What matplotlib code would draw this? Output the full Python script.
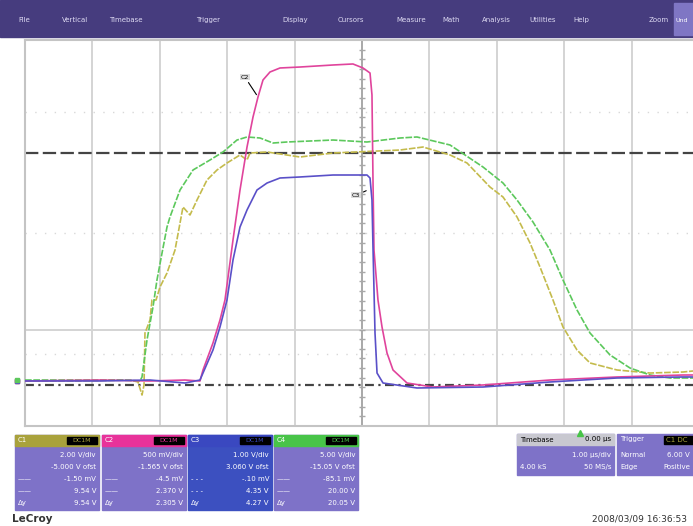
import matplotlib.pyplot as plt
from matplotlib.patches import Rectangle

# time in us (1 us/div, 10 div), level in screen divisions (0..8)
t_c1 = [0, 0.816, 1.558, 1.677, 1.736, 1.766, 1.780, 1.855, 1.884, 1.944, 2.003, 2.107, 2.226, 2.344,
        2.448, 2.552, 2.700, 2.849, 2.997, 3.190, 3.294, 3.338, 3.591, 4.080, 4.570, 5.564, 5.905,
        6.306, 6.558, 6.899, 7.092, 7.300, 7.493, 7.641, 7.834, 7.982, 8.190, 8.383, 8.783, 9.273,
        9.763, 9.911]
y_c1 = [0.933, 0.933, 0.953, 0.912, 0.642, 0.850, 1.927, 2.197, 2.611, 2.611, 2.881, 3.171, 3.648, 4.539,
        4.373, 4.684, 5.098, 5.306, 5.451, 5.617, 5.513, 5.658, 5.679, 5.575, 5.658, 5.720, 5.782,
        5.617, 5.451, 4.953, 4.746, 4.332, 3.793, 3.295, 2.611, 2.052, 1.575, 1.306, 1.161, 1.098,
        1.119, 1.140]

t_c2 = [0, 1.113, 1.855, 2.374, 2.596, 2.641, 2.789, 2.893, 2.967, 3.086, 3.190, 3.294, 3.383, 3.457,
        3.531, 3.635, 3.783, 4.080, 4.570, 4.866, 5.015, 5.119, 5.148, 5.163, 5.178, 5.237, 5.297,
        5.371, 5.460, 5.668, 6.053, 6.795, 7.789, 8.783, 9.763, 9.911]
y_c2 = [0.933, 0.953, 0.933, 0.953, 0.933, 1.161, 1.720, 2.197, 2.611, 3.855, 4.891, 5.782, 6.404, 6.819,
        7.171, 7.337, 7.420, 7.440, 7.482, 7.503, 7.420, 7.316, 6.860, 5.098, 3.648, 2.611, 2.052,
        1.513, 1.161, 0.891, 0.808, 0.850, 0.953, 1.016, 1.057, 1.057]

t_c3 = [0, 1.113, 1.855, 2.374, 2.596, 2.789, 2.893, 2.997, 3.086, 3.190, 3.294, 3.442, 3.591, 3.783,
        4.080, 4.570, 5.074, 5.119, 5.148, 5.163, 5.193, 5.223, 5.312, 5.816, 6.795, 7.789, 8.783,
        9.763, 9.911]
y_c3 = [0.933, 0.933, 0.953, 0.891, 0.953, 1.575, 2.052, 2.611, 3.440, 4.124, 4.477, 4.891, 5.036, 5.140,
        5.161, 5.202, 5.202, 5.140, 4.684, 3.710, 1.927, 1.098, 0.891, 0.788, 0.808, 0.912, 0.995,
        1.016, 1.016]

t_c4 = [0, 0.816, 1.409, 1.706, 1.736, 1.810, 1.899, 1.958, 2.033, 2.107, 2.151, 2.300, 2.493, 2.745,
        2.938, 3.145, 3.294, 3.487, 3.680, 3.887, 4.570, 5.074, 5.564, 5.816, 6.306, 6.795, 7.092,
        7.300, 7.537, 7.789, 7.982, 8.190, 8.383, 8.680, 8.976, 9.273, 9.570, 9.911]
y_c4 = [0.953, 0.953, 0.953, 0.933, 1.016, 1.782, 2.466, 3.026, 3.585, 4.124, 4.332, 4.891, 5.306, 5.513,
        5.679, 5.927, 5.990, 5.969, 5.865, 5.886, 5.927, 5.886, 5.969, 5.990, 5.824, 5.368, 5.036,
        4.684, 4.228, 3.648, 3.026, 2.404, 1.927, 1.472, 1.202, 1.057, 0.995, 0.995]

level_dashed = 5.66
level_dashdot = 0.85
trig_pos = 8.23

menu_items = ['File', 'Vertical', 'Timebase', 'Trigger', 'Display', 'Cursors', 'Measure',
              'Math', 'Analysis', 'Utilities', 'Help']
menu_x = [18, 62, 109, 196, 282, 338, 396, 442, 482, 529, 573]

ch_names = ['C1', 'C2', 'C3', 'C4']
ch_colors = ['#c4bb4c', '#e0449c', '#5a50c8', '#5cc85c']
head_colors = ['#a9a23c', '#e8329a', '#3a48c0', '#48c448']
body_colors = ['#7e72c8', '#7e72c8', '#3c50c0', '#7e72c8']
ch_rows = [['2.00 V/div', '-5.000 V ofst', '-1.50 mV', '9.54 V', '9.54 V'],
           ['500 mV/div', '-1.565 V ofst', '-4.5 mV', '2.370 V', '2.305 V'],
           ['1.00 V/div', '3.060 V ofst', '-.10 mV', '4.35 V', '4.27 V'],
           ['5.00 V/div', '-15.05 V ofst', '-85.1 mV', '20.00 V', '20.05 V']]
panel_x = [15, 102, 188, 274]

fig = plt.figure(figsize=(6.93, 5.26), dpi=100)

# overlay in pixel coordinates for the scope frame
bg = fig.add_axes([0, 0, 1, 1])
bg.set_xlim(0, 693)
bg.set_ylim(526, 0)
bg.axis('off')

bg.add_patch(Rectangle((0, 0), 693, 37, color='#463c7e'))
bg.add_patch(Rectangle((674, 3), 20, 32, color='#7f76c4'))
for w, x in zip(menu_items, menu_x):
    bg.text(x, 20, w, color='#ddd9f2', fontsize=5, va='center')
bg.text(649, 20, 'Zoom', color='#ddd9f2', fontsize=5, va='center')
bg.text(676, 20, 'Und', color='white', fontsize=4.5, va='center')

for i in range(4):
    x0 = panel_x[i]
    bg.add_patch(Rectangle((x0, 435), 84, 75, color=body_colors[i]))
    bg.add_patch(Rectangle((x0, 435), 84, 11, color=head_colors[i]))
    bg.add_patch(Rectangle((x0 + 52, 437), 30, 7, color='black'))
    bg.text(x0 + 3, 440.5, ch_names[i], color='white', fontsize=5, va='center')
    bg.text(x0 + 67, 440.5, 'DC1M', color=head_colors[i], fontsize=4.5, va='center', ha='center')
    for r, s in enumerate(ch_rows[i]):
        bg.text(x0 + 81, 455 + r * 12, s, color='white', fontsize=5, va='center', ha='right')
    bg.text(x0 + 3, 479, '- - -' if i == 2 else '——', color='white', fontsize=5, va='center')
    bg.text(x0 + 3, 491, '- - -' if i == 2 else '——', color='white', fontsize=5, va='center')
    bg.text(x0 + 3, 503, 'Δy', color='white', fontsize=5, va='center')

bg.add_patch(Rectangle((517, 434), 97, 41, color='#7e72c8'))
bg.add_patch(Rectangle((517, 434), 97, 11, color='#c8c8d0'))
bg.text(520, 439.5, 'Timebase', color='black', fontsize=5, va='center')
bg.text(611, 439.5, '0.00 µs', color='black', fontsize=5, va='center', ha='right')
bg.text(611, 455, '1.00 µs/div', color='white', fontsize=5, va='center', ha='right')
bg.text(520, 467, '4.00 kS', color='white', fontsize=5, va='center')
bg.text(611, 467, '50 MS/s', color='white', fontsize=5, va='center', ha='right')

bg.add_patch(Rectangle((617, 434), 80, 41, color='#7e72c8'))
bg.add_patch(Rectangle((664, 436), 30, 8, color='black'))
bg.text(620, 439.5, 'Trigger', color='white', fontsize=5, va='center')
bg.text(666, 439.5, 'C1 DC', color='#a9a23c', fontsize=5, va='center')
bg.text(620, 455, 'Normal', color='white', fontsize=5, va='center')
bg.text(690, 455, '6.00 V', color='white', fontsize=5, va='center', ha='right')
bg.text(620, 467, 'Edge', color='white', fontsize=5, va='center')
bg.text(690, 467, 'Positive', color='white', fontsize=5, va='center', ha='right')

bg.text(12, 519, 'LeCroy', color='#333333', fontsize=7.5, fontweight='bold', va='center')
bg.text(592, 519, '2008/03/09 16:36:53', color='#333333', fontsize=6.5, va='center')

# waveform grid
ax = fig.add_axes([25 / 693, 100 / 526, 674 / 693, 386 / 526])
ax.set_xlim(0, 10)
ax.set_ylim(0, 8)
ax.set_facecolor('white')
for sp in ax.spines.values():
    sp.set_color('#c4c4c4')
    sp.set_linewidth(1.5)
ax.set_xticks([])
ax.set_yticks([])

for k in range(1, 10):
    ax.axvline(k, color='#a8a8a8' if k == 5 else '#d4d4d4', lw=1.4, zorder=1)
ax.axhline(2, color='#d4d4d4', lw=1.4, zorder=1)
for yy in [1.5, 4, 6.5]:
    ax.axhline(yy, color='#d8d8d8', lw=1, ls=(0, (1, 6)), zorder=1)
ax.plot([5] * 39, [0.2 * i for i in range(1, 40)], '_', color='#a8a8a8', ms=4, zorder=1)

ax.axhline(level_dashed, color='#444444', lw=1.6, ls=(0, (6, 2)), zorder=2)
ax.axhline(level_dashdot, color='#444444', lw=1.6, ls=(0, (4, 2, 1, 2)), zorder=2)

ax.plot(t_c1, y_c1, color=ch_colors[0], lw=1.2, ls=(0, (4, 1)), zorder=3)
ax.plot(t_c4, y_c4, color=ch_colors[3], lw=1.2, ls=(0, (4, 1)), zorder=3)
ax.plot(t_c2, y_c2, color=ch_colors[1], lw=1.2, zorder=4)
ax.plot(t_c3, y_c3, color=ch_colors[2], lw=1.2, zorder=4)

# ground markers on the left edge
for yy, c in zip([y_c1[0], y_c2[0], y_c3[0], y_c4[0]], ch_colors):
    ax.plot(-0.12, yy, 's', color=c, ms=3, clip_on=False)
ax.plot(trig_pos, -0.15, '^', color='#48c448', ms=4, clip_on=False)

ax.annotate('C2', xy=(t_c2[13], y_c2[13]), xytext=(3.2, 7.2), fontsize=4.5, color='black',
            bbox=dict(boxstyle='square,pad=0.1', fc='#dddddd', ec='none'),
            arrowprops=dict(arrowstyle='-', color='black', lw=0.8))
ax.annotate('C3', xy=(5.1, 4.9), xytext=(4.85, 4.75), fontsize=4.5, color='black',
            bbox=dict(boxstyle='square,pad=0.1', fc='#dddddd', ec='none'),
            arrowprops=dict(arrowstyle='-', color='black', lw=0.8))

fig.savefig('out.png', dpi=100)
